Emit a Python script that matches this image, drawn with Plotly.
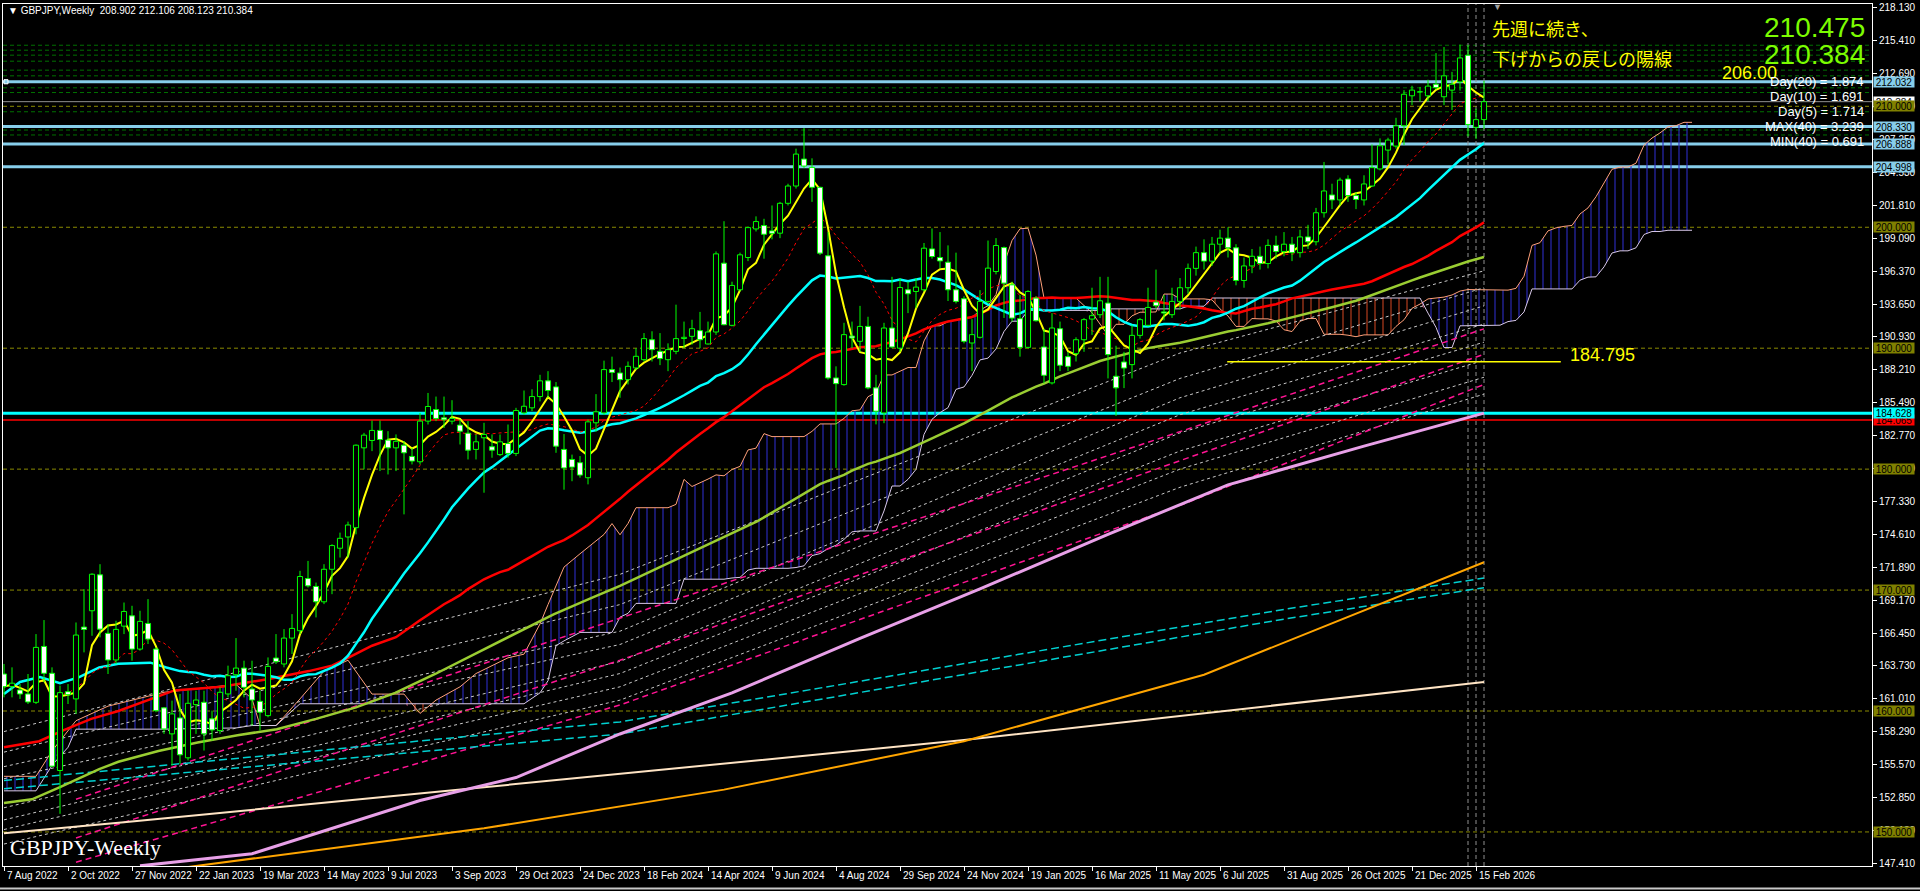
import numpy as np
import pandas as pd
import plotly.graph_objects as go

# ---------------- data ----------------
TICK_LABELS = ["7 Aug 2022", "2 Oct 2022", "27 Nov 2022", "22 Jan 2023", "19 Mar 2023", "14 May 2023",
               "9 Jul 2023", "3 Sep 2023", "29 Oct 2023", "24 Dec 2023", "18 Feb 2024", "14 Apr 2024",
               "9 Jun 2024", "4 Aug 2024", "29 Sep 2024", "24 Nov 2024", "19 Jan 2025", "16 Mar 2025",
               "11 May 2025", "6 Jul 2025", "31 Aug 2025", "26 Oct 2025", "21 Dec 2025", "15 Feb 2026"]
TICK_STEP = 8

OPEN = [163.06, 162.02, 161.74, 161.41, 160.72, 165.34, 163.12, 155.08, 161.60, 161.00,
        166.94, 168.29, 171.26, 166.42, 164.22, 167.02, 167.87, 165.12, 167.24, 165.12,
        160.26, 158.11, 159.43, 156.13, 160.53, 160.72, 159.35, 158.38, 161.41, 163.00,
        163.55, 161.82, 160.80, 159.62, 164.38, 163.89, 166.03, 166.64, 170.95, 170.30,
        169.03, 171.72, 173.46, 174.39, 175.16, 181.76, 182.37, 183.20, 182.40, 181.76,
        181.98, 181.05, 180.61, 183.97, 184.93, 184.24, 183.97, 183.64, 182.97, 181.63,
        182.59, 181.85, 181.20, 182.12, 181.30, 184.65, 185.07, 186.00, 187.30, 186.80,
        181.63, 180.80, 180.53, 179.29, 183.83, 184.65, 188.23, 187.95, 187.40, 188.37,
        189.05, 190.70, 189.74, 189.05, 189.74, 190.80, 190.98, 191.45, 190.35, 191.34,
        197.03, 191.89, 194.83, 197.50, 199.86, 200.14, 199.70, 199.51, 201.98, 203.41,
        205.64, 204.95, 203.30, 197.64, 187.54, 186.99, 191.00, 190.57, 191.80, 186.72,
        184.65, 191.67, 190.00, 194.83, 194.69, 194.83, 198.21, 197.50, 197.11, 194.83,
        194.09, 190.43, 190.90, 193.87, 196.34, 198.32, 195.24, 192.44, 190.07, 194.14,
        190.10, 187.13, 191.61, 189.30, 189.55, 190.70, 192.41, 192.77, 193.73, 187.68,
        188.86, 188.64, 191.06, 191.89, 193.81, 193.00, 192.77, 193.87, 195.00, 196.60,
        197.90, 197.20, 198.60, 199.10, 198.30, 195.60, 196.80, 197.60, 197.00, 198.50,
        198.00, 198.60, 197.90, 199.20, 198.80, 201.20, 202.67, 202.26, 203.99, 202.62,
        202.26, 203.41, 204.82, 206.38, 206.71, 208.39, 210.87, 211.20, 210.87, 211.83,
        210.79, 211.34, 212.02, 214.22, 208.26, 208.902]
HIGH = [163.89, 163.61, 162.23, 163.06, 166.36, 167.52, 163.61, 162.10, 162.23, 167.32,
        170.07, 171.39, 172.14, 167.19, 167.46, 168.97, 168.70, 168.29, 169.25, 165.26,
        160.31, 160.86, 161.41, 161.68, 161.68, 161.68, 160.03, 161.96, 163.75, 166.03,
        164.16, 164.16, 161.68, 164.43, 166.36, 166.77, 168.01, 171.59, 172.41, 170.62,
        172.14, 173.79, 174.75, 175.66, 182.04, 183.00, 184.02, 184.02, 183.14, 182.87,
        182.32, 181.76, 184.65, 186.30, 186.00, 186.00, 185.70, 184.10, 183.97, 182.87,
        183.83, 182.87, 182.87, 183.69, 185.07, 186.50, 186.60, 187.80, 188.10, 187.20,
        182.90, 181.20, 181.08, 184.10, 186.20, 188.97, 189.30, 188.40, 188.90, 190.00,
        191.25, 191.40, 191.25, 190.40, 193.60, 192.20, 192.35, 193.00, 192.20, 198.00,
        200.50, 195.50, 197.90, 200.05, 200.90, 200.70, 201.80, 202.10, 203.60, 206.50,
        208.20, 205.70, 203.35, 199.60, 188.50, 192.10, 192.20, 193.50, 192.60, 187.80,
        192.10, 195.90, 195.80, 195.50, 195.80, 198.70, 199.90, 199.60, 198.50, 197.90,
        194.30, 192.40, 194.80, 198.90, 199.10, 198.40, 195.50, 194.40, 194.80, 194.30,
        191.60, 192.90, 192.20, 189.70, 190.90, 192.50, 195.00, 195.90, 195.90, 190.20,
        189.70, 191.90, 192.50, 195.00, 196.50, 194.40, 195.00, 195.80, 197.00, 198.40,
        199.00, 199.20, 199.80, 200.00, 198.60, 197.50, 198.20, 198.40, 199.00, 199.30,
        199.60, 199.20, 199.80, 200.20, 201.60, 205.40, 203.60, 204.10, 204.30, 202.90,
        204.30, 206.85, 207.35, 207.40, 209.05, 211.34, 211.70, 211.60, 212.20, 214.40,
        214.90, 212.85, 215.10, 215.05, 209.80, 212.106]
LOW = [161.13, 161.13, 161.00, 160.58, 160.58, 162.37, 155.36, 151.50, 160.58, 159.76,
       164.85, 166.22, 166.09, 163.06, 163.89, 166.36, 164.16, 164.99, 165.54, 159.90,
       158.11, 155.50, 155.63, 155.91, 158.11, 156.73, 157.56, 158.11, 161.13, 161.68,
       161.13, 158.80, 158.38, 159.48, 163.89, 163.61, 164.71, 166.36, 170.21, 167.74,
       168.84, 169.66, 172.69, 172.69, 174.61, 179.98, 181.49, 179.84, 179.56, 179.84,
       176.26, 180.39, 180.39, 183.69, 183.97, 183.40, 183.70, 182.04, 180.80, 180.80,
       178.05, 180.94, 181.08, 180.94, 181.08, 184.52, 184.80, 185.60, 185.90, 181.35,
       178.30, 179.00, 179.29, 178.74, 183.10, 184.50, 187.20, 185.90, 187.00, 188.20,
       188.90, 188.90, 188.60, 188.10, 189.50, 190.00, 190.30, 190.00, 190.30, 191.10,
       191.90, 191.80, 194.70, 197.20, 199.65, 197.40, 199.00, 199.10, 201.80, 203.20,
       204.90, 202.10, 197.70, 187.40, 180.10, 186.90, 190.00, 189.70, 186.60, 183.70,
       183.80, 190.00, 189.70, 192.90, 193.30, 194.70, 197.40, 196.60, 193.90, 193.70,
       190.40, 188.10, 190.80, 193.70, 196.10, 192.50, 192.20, 189.30, 190.00, 192.20,
       187.10, 187.00, 188.10, 188.10, 188.90, 189.70, 191.10, 192.50, 187.50, 184.40,
       186.70, 187.50, 190.80, 191.80, 193.30, 192.30, 192.50, 193.20, 194.50, 196.00,
       196.50, 196.80, 197.80, 197.50, 195.20, 195.00, 196.20, 196.50, 196.60, 197.40,
       197.60, 197.20, 197.50, 198.20, 198.50, 200.80, 201.50, 201.80, 202.10, 201.50,
       201.80, 203.35, 204.70, 205.20, 206.50, 206.80, 210.10, 210.40, 210.40, 211.40,
       210.10, 209.70, 211.30, 207.50, 207.30, 208.123]
CLOSE = [162.02, 162.30, 161.41, 160.75, 165.26, 163.12, 155.44, 161.52, 161.35, 166.28,
         166.75, 171.31, 166.77, 164.22, 166.75, 168.23, 165.12, 167.41, 165.95, 160.03,
         158.52, 159.76, 156.38, 160.64, 160.91, 158.11, 158.44, 161.55, 162.92, 163.55,
         161.96, 160.91, 159.90, 163.69, 164.08, 166.03, 166.83, 171.12, 170.35, 169.03,
         171.72, 173.68, 174.28, 175.38, 181.98, 182.81, 183.20, 182.45, 181.76, 182.30,
         181.35, 180.67, 183.97, 185.18, 184.19, 184.08, 184.19, 183.14, 181.57, 182.26,
         182.87, 181.57, 182.26, 181.30, 184.85, 185.20, 186.00, 187.30, 186.50, 181.90,
         180.10, 180.17, 179.51, 183.91, 184.74, 188.23, 188.00, 187.40, 188.50, 189.33,
         190.79, 189.88, 189.14, 189.88, 190.79, 190.90, 191.61, 190.70, 191.34, 197.80,
         191.94, 195.19, 197.72, 199.97, 200.47, 199.42, 199.50, 201.98, 203.41, 206.05,
         205.06, 203.30, 197.86, 187.54, 187.07, 191.12, 190.84, 191.80, 186.72, 184.79,
         191.67, 190.10, 195.02, 194.50, 195.05, 198.27, 197.58, 197.22, 194.83, 193.87,
         190.57, 191.12, 193.87, 196.62, 198.49, 195.38, 192.49, 190.07, 194.69, 192.27,
         187.76, 191.67, 188.59, 188.50, 190.70, 192.36, 192.69, 193.92, 189.47, 186.72,
         188.36, 191.06, 192.36, 193.37, 193.51, 192.91, 193.87, 195.00, 196.60, 197.90,
         197.20, 198.60, 199.10, 198.30, 195.60, 196.80, 197.60, 197.00, 198.50, 198.00,
         198.60, 197.90, 199.20, 198.80, 201.20, 203.00, 202.26, 203.90, 202.62, 202.30,
         203.58, 204.93, 206.74, 207.21, 208.39, 211.00, 211.34, 211.25, 211.67, 211.55,
         212.52, 211.83, 214.00, 208.50, 208.90, 210.384]

# moving-average readings where the history lies before the first bar
CYAN_EARLY_IDX = [0, 2, 4.5, 7, 9.4, 11.9, 14.3, 18.3, 20.3, 22]
CYAN_EARLY_VAL = [161.4, 162.4, 162.8, 162.3, 162.8, 163.6, 163.9, 164.0, 163.6, 163.3]
RED_EARLY_IDX = [0, 4.4, 7.4, 10.9, 14.3, 18.3, 21.3, 27.2, 33.1, 38.1, 41, 43, 46, 49]
RED_EARLY_VAL = [157.0, 157.5, 158.4, 159.35, 160.0, 161.0, 161.7, 162.0, 162.65, 163.3, 163.75, 164.4, 165.4, 166.1]
YG_EARLY_IDX = [0, 3.5, 7, 11.9, 14.3, 19.3, 24.2, 29.2, 34.1, 39.0, 44, 48.9, 53.9, 58.8, 63.8, 68.7, 73.6, 77, 94.2]
YG_EARLY_VAL = [152.4, 152.7, 153.7, 155.2, 155.8, 156.7, 157.4, 158.0, 158.5, 159.35, 160.3, 161.5, 163.06,
                164.7, 166.4, 168.0, 169.4, 170.35, 175.7]

# long moving averages (readings)
PINK_IDX = [17, 31, 52, 64, 77, 91, 107, 122, 138, 153, 170, 185]
PINK_VAL = [147.2, 148.2, 152.6, 154.5, 158.1, 161.5, 166.0, 170.1, 174.6, 178.7, 181.9, 184.63]
ORANGE_IDX = [23, 60, 90, 120, 150, 185]
ORANGE_VAL = [147.1, 150.3, 153.5, 157.5, 163.0, 172.3]
CREAM_IDX = [0, 15, 60, 120, 185]
CREAM_VAL = [149.9, 150.8, 153.7, 157.6, 162.4]
CYD_IDX = [0, 77, 160, 185]
CYD1_VAL = [154.25, 159.1, 168.4, 171.0]
CYD2_VAL = [153.57, 158.1, 167.6, 170.2]

# ribbon of dashed averages (readings)
FAN_IDX = [0, 77, 147, 185]
FAN_G1 = [158.3, 171.3, 189.6, 196.4]
FAN_G2 = [156.6, 168.8, 187.5, 195.0]
FAN_G3 = [155.4, 166.6, 185.9, 193.5]
FAN_G4 = [154.4, 165.5, 184.5, 192.0]
FAN_G5 = [152.0, 164.1, 183.0, 190.5]
FAN_G6 = [151.0, 163.1, 181.5, 189.0]
FAN_G7 = [150.2, 162.0, 180.0, 187.6]
FAN_G8 = [149.0, 160.9, 178.5, 186.2]
MAG_IDX = [9, 77, 147, 185]
MAG_1 = [152.7, 167.7, 183.1, 191.6]
MAG_2 = [149.5, 164.2, 180.7, 189.5]
MAG_3 = [147.5, 160.5, 177.0, 187.0]

# ichimoku span readings before the computable range
CLOUD_EARLY_IDX = [0, 4, 6, 8, 9, 13, 19, 20, 29, 31, 32, 34, 37, 40, 43, 46, 50, 52, 54, 57, 59, 63, 65, 67,
                   68, 69, 70, 72, 75, 76]
SPAN_A_EARLY = [154.6, 154.6, 156.7, 158.4, 159.2, 160.4, 161.4, 161.55, 162.2, 161.0, 158.8, 158.8, 161.0,
                163.3, 164.2, 161.4, 161.4, 159.8, 160.9, 162.0, 163.1, 164.4, 164.7, 167.2, 168.8, 170.3,
                171.9, 173.0, 174.6, 175.5]
SPAN_B_EARLY = [153.4, 153.4, 155.5, 157.0, 158.5, 158.5, 158.5, 158.5, 158.6, 158.8, 158.8, 158.8, 160.6,
                160.6, 160.6, 160.6, 160.6, 160.6, 160.6, 160.6, 160.6, 160.6, 160.6, 161.5, 162.5, 165.4,
                165.8, 166.5, 166.5, 166.5]

SKY_LEVELS = [212.032, 208.330, 206.888, 204.998]
ROUND_LEVELS = [150, 160, 170, 180, 190, 200, 210]
GREEN_LEVELS = [215.05, 214.64, 214.23, 213.73, 212.99, 212.52, 211.53, 211.14, 209.55, 208.04, 207.63]
MA_LINE_CYAN = 184.628
MA_LINE_RED = 184.065
BID = 210.384
ASK_TEXT = "210.475"
TREND_LEVEL = 188.87
TREND_FROM, TREND_TO = 152.9, 194.6
TREND_TEXT = "184.795"
TARGET_TEXT = "206.00"
STATS = ['Day(20) = 1.874', 'Day(10) = 1.691', 'Day(5) = 1.714', 'MAX(40) = 3.239', 'MIN(40) = 0.691']
NOTE_1 = '先週に続き、'
NOTE_2 = '下げからの戻しの陽線'
VLINE_IDX = [183, 184, 185]
YTICK_START, YTICK_STEP, YTICK_N = 147.41, 2.72, 27

# ---------------- geometry ----------------
W, H = 1920, 891
ML, MR, MT, MB = 3, 48, 2, 25
PW, PH = W - ML - MR, H - MT - MB
XMIN = -0.125
XMAX = XMIN + PW / 8.0
YMAX = 218.13 + 4 / 12.122
YMIN = YMAX - PH / 12.122

def px(x):
    return (x - ML) / PW

def py(y):
    return 1 - (y - MT) / PH

N = len(CLOSE)
idx = np.arange(N)
c = pd.Series(CLOSE)
hs = pd.Series(HIGH)
ls = pd.Series(LOW)

sma5 = c.rolling(5, min_periods=1).mean()
sma12 = c.rolling(12, min_periods=1).mean()
sma24 = c.rolling(24).mean()
sma52 = c.rolling(52).mean()
sma100 = c.rolling(100).mean()

tenkan = (hs.rolling(9).max() + ls.rolling(9).min()) / 2
kijun = (hs.rolling(26).max() + ls.rolling(26).min()) / 2
spanA = ((tenkan + kijun) / 2).values
spanB = ((hs.rolling(52).max() + ls.rolling(52).min()) / 2).values
calc_x = list(range(77, N + 26))
cx = CLOUD_EARLY_IDX + calc_x
cA = np.array(SPAN_A_EARLY + [spanA[j - 26] for j in calc_x])
cB = np.array(SPAN_B_EARLY + [spanB[j - 26] for j in calc_x])
lo = np.minimum(cA, cB)
hiBlue = np.where(cA >= cB, cA, lo)
hiRed = np.where(cB > cA, cB, lo)

fig = go.Figure()

def line(x, y, color, width=1, dash=None):
    fig.add_trace(go.Scatter(x=list(x), y=list(y), mode='lines', hoverinfo='skip',
                             line=dict(color=color, width=width, dash=dash)))

# cloud hatch
for hi, col in [(hiBlue, '#2a2ac0'), (hiRed, '#c0401e')]:
    fig.add_trace(go.Scatter(x=cx, y=lo, mode='lines', line=dict(width=0), hoverinfo='skip'))
    fig.add_trace(go.Scatter(x=cx, y=hi, mode='lines', line=dict(width=0), hoverinfo='skip',
                             fill='tonexty', fillcolor='rgba(0,0,0,0)',
                             fillpattern=dict(shape='|', size=8, solidity=0.14, fgcolor=col,
                                              bgcolor='rgba(0,0,0,0)', fillmode='replace')))
line(cx, cA, '#ffa07a', 1)
line(cx, cB, '#d8c8e8', 1)

# dashed ribbon
for g in [FAN_G1, FAN_G2, FAN_G3, FAN_G4, FAN_G5, FAN_G6, FAN_G7, FAN_G8]:
    line(FAN_IDX, g, '#c8c8c8', 1, '3px,3px')
for m in [MAG_1, MAG_2, MAG_3]:
    line(MAG_IDX, m, '#ff1493', 1.5, '6px,4px')
line(CYD_IDX, CYD1_VAL, '#00d0d0', 1.5, '8px,4px')
line(CYD_IDX, CYD2_VAL, '#00d0d0', 1.5, '8px,4px')

# long MAs
line(CREAM_IDX, CREAM_VAL, '#ffe4c4', 2)
line(ORANGE_IDX, ORANGE_VAL, '#ffa500', 2)
line(PINK_IDX, PINK_VAL, '#e8a0e8', 3)

# computed MAs
line(YG_EARLY_IDX + list(range(99, N)), YG_EARLY_VAL + list(sma100[99:]), '#9acd32', 2.5)
line(RED_EARLY_IDX + list(range(51, N)), RED_EARLY_VAL + list(sma52[51:]), '#ff0000', 2.5)
line(CYAN_EARLY_IDX + list(range(23, N)), CYAN_EARLY_VAL + list(sma24[23:]), '#00ffff', 2.5)
line(idx, sma12, '#ff0000', 1, 'dot')
line(idx, sma5, '#ffff00', 2)

# candles: wicks then bodies
wx, wy = [], []
for i in range(N):
    wx += [i, i, None]
    wy += [LOW[i], HIGH[i], None]
fig.add_trace(go.Scatter(x=wx, y=wy, mode='lines', line=dict(color='#00ff00', width=1), hoverinfo='skip'))
BW = 0.32
for bull, fillc in [(True, '#000000'), (False, '#ffffff')]:
    bx, by = [], []
    for i in range(N):
        o, cl = OPEN[i], CLOSE[i]
        if (cl >= o) != bull:
            continue
        lo_, hi_ = min(o, cl), max(o, cl)
        bx += [i - BW, i + BW, i + BW, i - BW, i - BW, None]
        by += [lo_, lo_, hi_, hi_, lo_, None]
    fig.add_trace(go.Scatter(x=bx, y=by, mode='lines', fill='toself', fillcolor=fillc,
                             line=dict(color='#00ff00', width=1), hoverinfo='skip'))

# ---------------- horizontal / vertical objects ----------------
shapes = []
for lv in GREEN_LEVELS:
    shapes.append(dict(type='line', xref='paper', x0=0, x1=1, y0=lv, y1=lv, layer='below',
                       line=dict(color='#007000', width=1, dash='4px,3px')))
for lv in ROUND_LEVELS:
    shapes.append(dict(type='line', xref='paper', x0=0, x1=1, y0=lv, y1=lv, layer='below',
                       line=dict(color='#8a8a00', width=1, dash='4px,3px')))
shapes.append(dict(type='line', xref='paper', x0=0, x1=1, y0=BID, y1=BID, layer='below',
                   line=dict(color='#909090', width=1)))
for lv in SKY_LEVELS:
    shapes.append(dict(type='line', xref='paper', x0=0, x1=1, y0=lv, y1=lv, layer='below',
                       line=dict(color='#87ceeb', width=3)))
shapes.append(dict(type='line', xref='paper', x0=0, x1=1, y0=MA_LINE_RED, y1=MA_LINE_RED, layer='below',
                   line=dict(color='#ff0000', width=1.5)))
shapes.append(dict(type='line', xref='paper', x0=0, x1=1, y0=MA_LINE_CYAN, y1=MA_LINE_CYAN, layer='below',
                   line=dict(color='#00ffff', width=3)))
shapes.append(dict(type='line', x0=TREND_FROM, x1=TREND_TO, y0=TREND_LEVEL, y1=TREND_LEVEL, layer='above',
                   line=dict(color='#ffff00', width=1.5)))
for v in VLINE_IDX:
    shapes.append(dict(type='line', x0=v, x1=v, yref='paper', y0=0, y1=1, layer='below',
                       line=dict(color='#909090', width=1, dash='4px,3px')))
# selection handle on the first level line
shapes.append(dict(type='rect', xref='paper', x0=px(4), x1=px(8), y0=SKY_LEVELS[0] - 0.17,
                   y1=SKY_LEVELS[0] + 0.17, line=dict(color='#ffffff', width=1), fillcolor='#87ceeb',
                   layer='above'))
# window bottom border
shapes.append(dict(type='line', xref='paper', yref='paper', x0=px(0), x1=px(1920), y0=py(888.5), y1=py(888.5),
                   line=dict(color='#c8c8c8', width=2)))

# ---------------- annotations ----------------
ann = []
FONT = 'Liberation Sans, Arial, DejaVu Sans'
tick_idx = [k * TICK_STEP for k in range(len(TICK_LABELS))]
for ti, lab in zip(tick_idx, TICK_LABELS):
    ann.append(dict(x=ti, y=0, yref='paper', xanchor='left', yanchor='top', yshift=-2, xshift=1,
                    text=lab, showarrow=False, font=dict(family=FONT, size=10, color='white')))

def box(val, bg, fg='#000000'):
    ann.append(dict(xref='paper', x=1, xanchor='left', xshift=1, y=val, yanchor='middle',
                    text='%.3f' % val, showarrow=False, bgcolor=bg, width=40, height=10, borderpad=0,
                    font=dict(family=FONT, size=10, color=fg)))

box(BID, '#ffffff')
for lv in ROUND_LEVELS:
    box(lv, '#808000')
for lv in SKY_LEVELS:
    box(lv, '#87ceeb')
box(MA_LINE_RED, '#ff0000')
box(MA_LINE_CYAN, '#00ffff')

def text(x, y, s, size, color, anchor='left', family=FONT):
    ann.append(dict(xref='paper', yref='paper', x=px(x), y=py(y), xanchor=anchor, yanchor='middle',
                    text=s, showarrow=False, font=dict(family=family, size=size, color=color)))

text(6, 9, '\u25bc GBPJPY,Weekly  %.3f %.3f %.3f %.3f' % (OPEN[-1], HIGH[-1], LOW[-1], CLOSE[-1]), 10, 'white')
text(1490, 26, NOTE_1, 18, '#ffff00', family='Noto Sans CJK JP')
text(1490, 56, NOTE_2, 18, '#ffff00', family='Noto Sans CJK JP')
text(1867, 26, ASK_TEXT, 28, '#7cfc00', 'right')
text(1867, 53, '%.3f' % CLOSE[-1], 28, '#7cfc00', 'right')
text(1720, 71, TARGET_TEXT, 18, '#ffff00')
for k, s in enumerate(STATS):
    text(1866, 80 + 15 * k, s, 13, 'white', 'right')
text(1568, 354, TREND_TEXT, 18, '#ffff00')
text(8, 847, 'GBPJPY-Weekly', 22, 'white', family='Liberation Serif, Times New Roman, serif')
text(1497, 5, '\u25bc', 9, '#a0a0a0', 'center')

fig.update_layout(
    width=W, height=H, margin=dict(l=ML, r=MR, t=MT, b=MB),
    paper_bgcolor='black', plot_bgcolor='black', showlegend=False,
    shapes=shapes, annotations=ann,
    xaxis=dict(range=[XMIN, XMAX], showgrid=False, zeroline=False, showline=True, linecolor='white',
               linewidth=1, mirror=True, tickvals=tick_idx, ticks='outside', ticklen=4, tickcolor='white',
               showticklabels=False, fixedrange=True),
    yaxis=dict(range=[YMIN, YMAX], side='right', showgrid=False, zeroline=False, showline=True,
               linecolor='white', linewidth=1, mirror=True,
               tickvals=[YTICK_START + k * YTICK_STEP for k in range(YTICK_N)],
               ticktext=['%.3f' % (YTICK_START + k * YTICK_STEP) for k in range(YTICK_N)],
               ticks='outside', ticklen=4, tickcolor='white',
               tickfont=dict(family=FONT, size=10, color='white'), fixedrange=True),
)

fig.write_html("out.html", config={'displayModeBar': False},
               post_script="document.body.style.margin='0';document.body.style.overflow='hidden';")
